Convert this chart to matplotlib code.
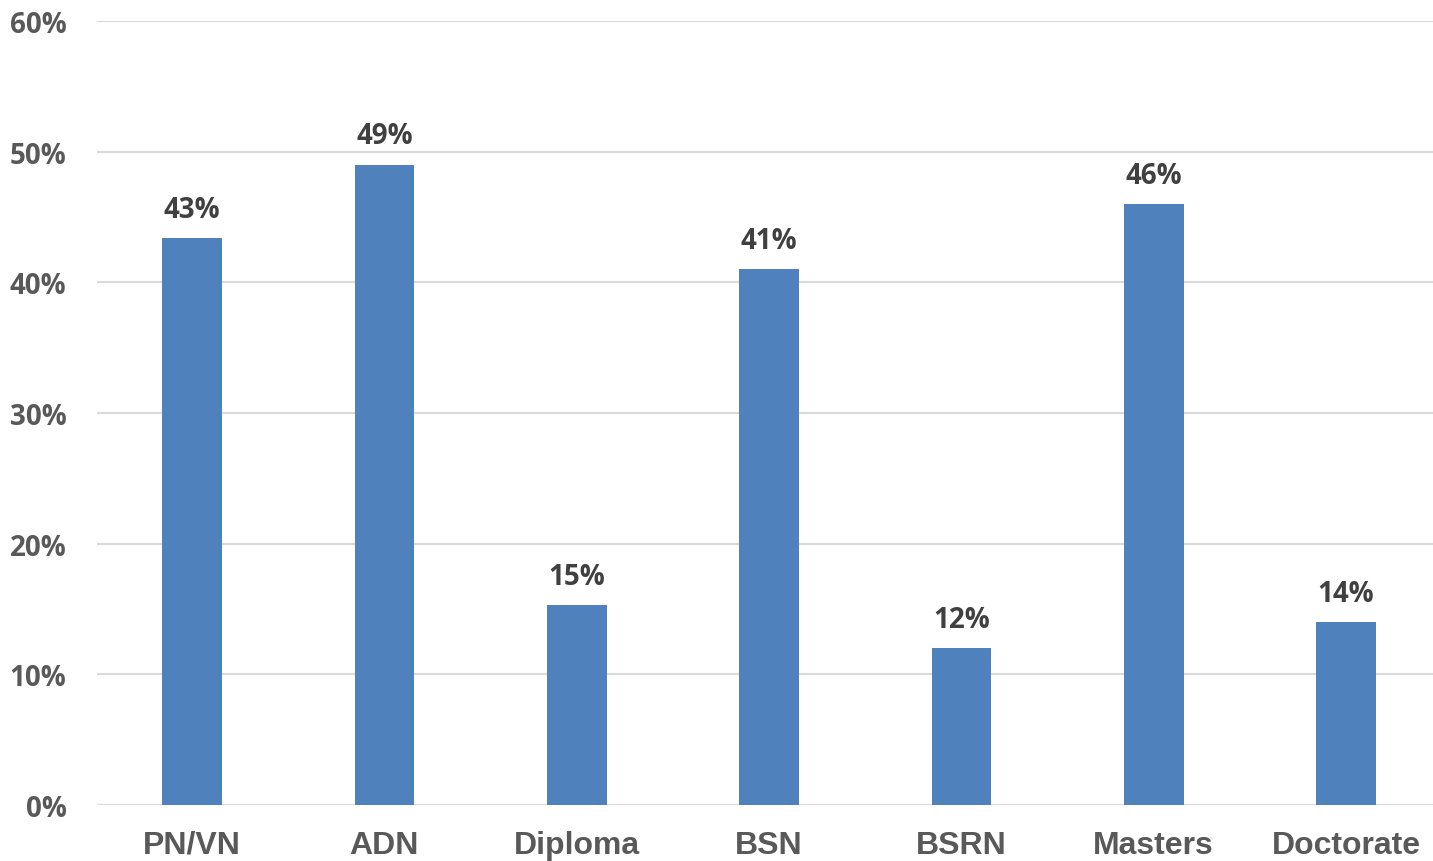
import matplotlib
matplotlib.use("Agg")
import matplotlib.pyplot as plt

categories = ["PN/VN", "ADN", "Diploma", "BSN", "BSRN", "Masters", "Doctorate"]
values = [43.4, 49.0, 15.3, 41.0, 12.0, 46.0, 14.0]
labels = ["43%", "49%", "15%", "41%", "12%", "46%", "14%"]
yticks = [0, 10, 20, 30, 40, 50, 60]
ytick_labels = ["0%", "10%", "20%", "30%", "40%", "50%", "60%"]

fig = plt.figure(figsize=(14.33, 8.62), dpi=100)
ax = fig.add_axes([97/1433, 1-806/862, 1-97/1433, (806-22)/862])

x = list(range(len(categories)))
ax.bar(x, values, width=0.31, color="#4f81bd", zorder=3)
for xi, v, lab in zip(x, values, labels):
    ax.text(xi, v + 1.1, lab, ha="center", va="bottom", fontsize=20,
            fontweight="bold", color="#404040", family="Open Sans")

ax.set_xlim(-0.494, 6.452)
ax.set_ylim(0, 60)
ax.set_yticks(yticks)
ax.set_yticklabels(ytick_labels, fontsize=20, fontweight="bold",
                   color="#595959", family="Open Sans")
ax.set_xticks(x)
ax.set_xticklabels(categories, fontsize=23, fontweight="bold",
                   color="#595959", family="Liberation Sans")
ax.tick_params(axis="both", length=0)
ax.tick_params(axis="y", pad=22)
ax.tick_params(axis="x", pad=18)
ax.grid(axis="y", color="#d9d9d9", linewidth=1.5, zorder=0)
for s in ax.spines.values():
    s.set_visible(False)

fig.savefig("out.png", dpi=100)
